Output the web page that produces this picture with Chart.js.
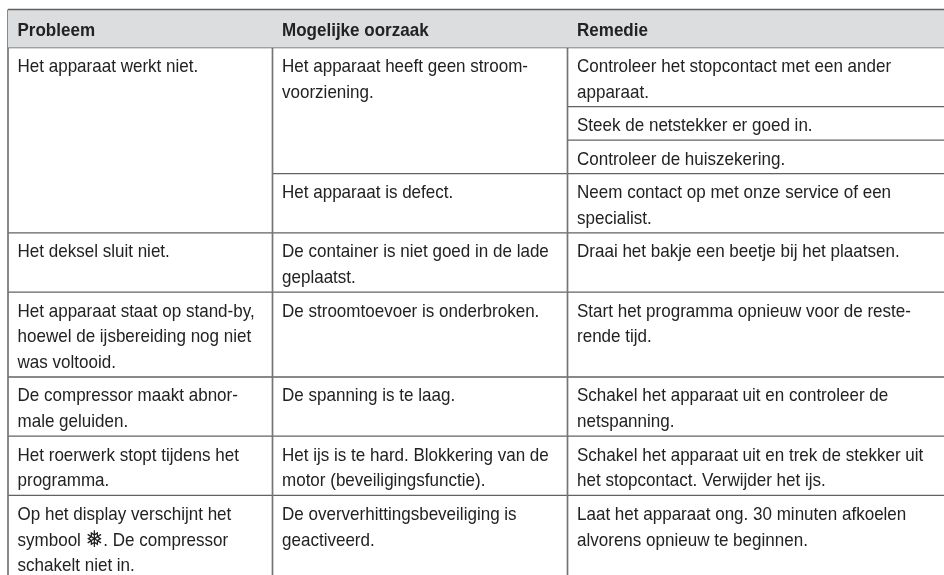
<!DOCTYPE html>
<html>
<head>
<meta charset="utf-8">
<script src="https://cdn.jsdelivr.net/npm/chart.js@4"></script>
<style>
html, body { margin: 0; padding: 0; background: #fff; overflow: hidden; }
canvas { display: block; }
</style>
</head>
<body>
<canvas id="table-chart" width="944" height="575"></canvas>
<script>
var headers = ['Probleem', 'Mogelijke oorzaak', 'Remedie'];

// number of text lines of each smallest table row
var rowLines = [2, 1, 1, 2, 2, 3, 2, 2, 3];

// [first row, number of rows, lines of text]
var problems = [
    [0, 4, ['Het apparaat werkt niet.']],
    [4, 1, ['Het deksel sluit niet.']],
    [5, 1, ['Het apparaat staat op stand-by,', 'hoewel de ijsbereiding nog niet', 'was voltooid.']],
    [6, 1, ['De compressor maakt abnor-', 'male geluiden.']],
    [7, 1, ['Het roerwerk stopt tijdens het', 'programma.']],
    [8, 1, ['Op het display verschijnt het', 'symbool \u2745. De compressor', 'schakelt niet in.']]
];
var causes = [
    [0, 3, ['Het apparaat heeft geen stroom-', 'voorziening.']],
    [3, 1, ['Het apparaat is defect.']],
    [4, 1, ['De container is niet goed in de lade', 'geplaatst.']],
    [5, 1, ['De stroomtoevoer is onderbroken.']],
    [6, 1, ['De spanning is te laag.']],
    [7, 1, ['Het ijs is te hard. Blokkering van de', 'motor (beveiligingsfunctie).']],
    [8, 1, ['De oververhittingsbeveiliging is', 'geactiveerd.']]
];
var remedies = [
    [0, 1, ['Controleer het stopcontact met een ander', 'apparaat.']],
    [1, 1, ['Steek de netstekker er goed in.']],
    [2, 1, ['Controleer de huiszekering.']],
    [3, 1, ['Neem contact op met onze service of een', 'specialist.']],
    [4, 1, ['Draai het bakje een beetje bij het plaatsen.']],
    [5, 1, ['Start het programma opnieuw voor de reste-', 'rende tijd.']],
    [6, 1, ['Schakel het apparaat uit en controleer de', 'netspanning.']],
    [7, 1, ['Schakel het apparaat uit en trek de stekker uit', 'het stopcontact. Verwijder het ijs.']],
    [8, 1, ['Laat het apparaat ong. 30 minuten afkoelen', 'alvorens opnieuw te beginnen.']]
];

var columns = [problems, causes, remedies];
var colEdges = [8, 272.5, 567.5, 944];
var tableTop = 9.5, headerBottom = 47.5;
var lineStep = 25.7, rowPad = 7.8;
var ruleColor = '#626262';
var fontName = '"Liberation Sans", "DejaVu Sans"';
var flake = '\u2745';

// top of each row, worked out from its line count
var rowTops = [headerBottom];
rowLines.forEach(function (n, i) {
    rowTops.push(rowTops[i] + n * lineStep + rowPad);
});

function rule(x1, y1, x2, y2, width, color) {
    return {
        data: [{ x: x1, y: y1 }, { x: x2, y: y2 }],
        showLine: true,
        pointRadius: 0,
        borderColor: color || ruleColor,
        borderWidth: width || 1.3
    };
}

var datasets = [];
// grey header band
datasets.push({
    data: [{ x: colEdges[0], y: tableTop }, { x: colEdges[3], y: tableTop }],
    showLine: true,
    pointRadius: 0,
    borderColor: ruleColor,
    borderWidth: 1.5,
    backgroundColor: '#dcddde',
    fill: { value: headerBottom }
});
datasets.push(rule(colEdges[0], headerBottom, colEdges[3], headerBottom));
colEdges.slice(0, 3).forEach(function (x) {
    datasets.push(rule(x, tableTop, x, rowTops[rowTops.length - 1], 1.7, '#757575'));
});
columns.forEach(function (cells, c) {
    cells.forEach(function (cell) {
        var bottom = rowTops[cell[0] + cell[1]];
        datasets.push(rule(colEdges[c], bottom, colEdges[c + 1], bottom));
    });
});

// the glyphs in the picture are a bit taller than they are wide
function squeezedText(ctx, text, x, y) {
    ctx.save();
    ctx.translate(x, y);
    ctx.scale(0.92, 1);
    var parts = text.split(flake);
    ctx.fillText(parts[0], 0, 0);
    if (parts.length > 1) {
        // the snowflake symbol is drawn larger than the text round it
        var w = ctx.measureText(parts[0]).width;
        var font = ctx.font;
        ctx.font = '23px ' + fontName;
        ctx.fillText(flake, w, 1);
        var fw = ctx.measureText(flake).width;
        ctx.font = font;
        ctx.fillText(parts[1], w + fw, 0);
    }
    ctx.restore();
}

var tableText = {
    id: 'tableText',
    afterDatasetsDraw: function (chart) {
        var ctx = chart.ctx, xs = chart.scales.x, ys = chart.scales.y;
        ctx.save();
        ctx.fillStyle = '#222222';
        ctx.textBaseline = 'alphabetic';
        ctx.font = 'bold 18.5px ' + fontName;
        headers.forEach(function (h, c) {
            squeezedText(ctx, h, xs.getPixelForValue(colEdges[c] + 9.5), ys.getPixelForValue(35.5));
        });
        ctx.font = '18.5px ' + fontName;
        columns.forEach(function (cells, c) {
            cells.forEach(function (cell) {
                cell[2].forEach(function (line, i) {
                    squeezedText(ctx, line, xs.getPixelForValue(colEdges[c] + 9.5),
                        ys.getPixelForValue(rowTops[cell[0]] + 24.4 + i * lineStep));
                });
            });
        });
        ctx.restore();
    }
};

new Chart(document.getElementById('table-chart'), {
    type: 'scatter',
    data: { datasets: datasets },
    options: {
        responsive: false,
        animation: false,
        layout: { padding: 0 },
        plugins: { legend: { display: false }, title: { display: false }, tooltip: { enabled: false } },
        scales: {
            x: { type: 'linear', min: 0, max: 944, display: false },
            y: { type: 'linear', min: 0, max: 575, reverse: true, display: false }
        }
    },
    plugins: [tableText]
});
</script>
</body>
</html>
